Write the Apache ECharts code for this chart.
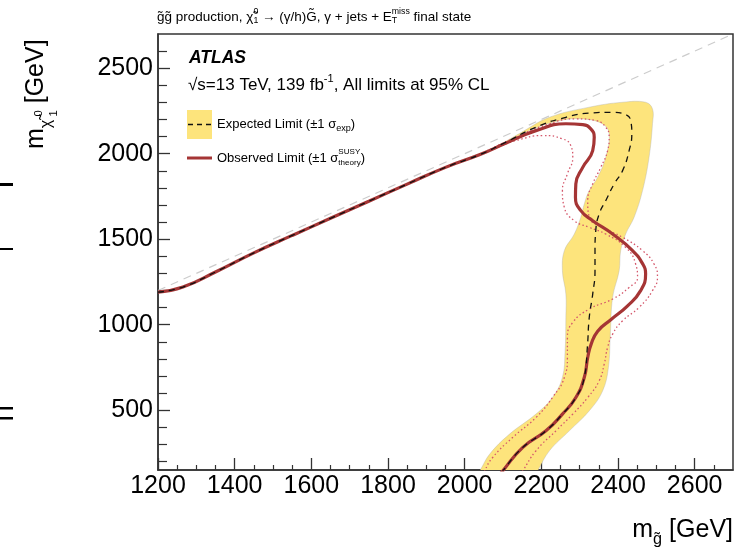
<!DOCTYPE html>
<html><head><meta charset="utf-8">
<script src="https://cdn.jsdelivr.net/npm/echarts@6/dist/echarts.min.js"></script>
<style>html,body{margin:0;padding:0;background:#fff}#c{width:745px;height:549px}</style>
</head><body><div id="c"></div>
<script>
// ---------------- data ----------------
const xTickLabels = [1200, 1400, 1600, 1800, 2000, 2200, 2400, 2600];
const xMinorTicks = [1250,1300,1350,1450,1500,1550,1650,1700,1750,1850,1900,1950,2050,2100,2150,2250,2300,2350,2450,2500,2550,2650];
const yTickLabels = [500, 1000, 1500, 2000, 2500];
const yMinorTicks = [200,300,400,600,700,800,900,1100,1200,1300,1400,1600,1700,1800,1900,2100,2200,2300,2400,2600];

const diagonal = [[1200,1200],[2700,2700]];

const observed = [[1200,1190],[1265,1220],[1350,1308],[1450,1420],[1550,1522],[1650,1622],[1750,1722],[1850,1822],[1950,1920],[2040,1995],[2108,2062],[2186,2135],[2264,2175],[2308,2170],[2329,2145],[2338,2096],[2334,2018],[2308,1920],[2290,1823],[2289,1745],[2303,1667],[2334,1608],[2386,1530],[2438,1433],[2464,1357],[2472,1296],[2459,1199],[2425,1110],[2382,1030],[2347,962],[2330,886],[2321,808],[2312,691],[2290,574],[2255,477],[2212,379],[2151,281],[2099,144],[2080,90]];

const expected = [[1200,1190],[1265,1220],[1350,1308],[1450,1420],[1550,1522],[1650,1622],[1750,1722],[1850,1822],[1950,1920],[2040,1995],[2108,2068],[2186,2155],[2264,2213],[2325,2237],[2386,2242],[2420,2229],[2433,2194],[2436,2116],[2429,2018],[2412,1901],[2390,1823],[2368,1725],[2351,1648],[2342,1550],[2340,1433],[2340,1316],[2334,1179],[2325,1042],[2320,866],[2312,691],[2290,574],[2255,477],[2212,379],[2151,281],[2099,144],[2080,90]];

const obsUp = [[2040,1995],[2108,2070],[2221,2175],[2290,2204],[2342,2194],[2368,2155],[2377,2096],[2373,2018],[2355,1920],[2334,1823],[2321,1725],[2325,1628],[2360,1569],[2412,1511],[2464,1433],[2494,1355],[2503,1280],[2490,1199],[2455,1101],[2412,1023],[2386,945],[2373,867],[2364,769],[2351,672],[2321,574],[2282,477],[2238,379],[2186,262],[2151,144],[2130,80]];

const obsDown = [[2040,1995],[2100,2050],[2134,2077],[2203,2106],[2255,2087],[2277,2047],[2282,1979],[2268,1882],[2255,1784],[2260,1686],[2286,1608],[2325,1569],[2368,1530],[2420,1452],[2446,1355],[2451,1276],[2429,1218],[2386,1150],[2325,1091],[2282,1013],[2268,925],[2268,808],[2260,691],[2229,574],[2186,457],[2125,340],[2073,223],[2052,144],[2040,80]];

const bandOuter = [[2060,2010],[2143,2118],[2221,2213],[2325,2272],[2412,2301],[2472,2301],[2490,2262],[2490,2175],[2481,1979],[2464,1784],[2442,1628],[2420,1530],[2407,1433],[2403,1316],[2386,1160],[2380,945],[2375,749],[2360,613],[2325,496],[2273,379],[2221,262],[2190,144],[2175,90]];
const bandInner = [[2020,90],[2039,144],[2065,242],[2117,360],[2186,477],[2229,574],[2255,691],[2262,847],[2264,1042],[2264,1179],[2255,1316],[2260,1433],[2286,1530],[2303,1628],[2312,1706],[2325,1784],[2347,1862],[2368,1979],[2377,2116],[2360,2174],[2308,2203],[2247,2193],[2169,2135],[2104,2059]];

// ---------------- helpers ----------------
const FONT = "'Liberation Sans', Arial, Helvetica, sans-serif";
const mctx = document.createElement('canvas').getContext('2d');
function fontStr(size, weight, style){ return `${style||'normal'} ${weight||'normal'} ${size}px ${FONT}`; }
function measure(t, size, weight, style){ mctx.font = fontStr(size, weight, style); return mctx.measureText(t).width; }
function richText(segs, base, opt){
  opt = opt || {};
  let x = 0, pend = 0; const els = [];
  for (const s of segs){
    const size = base * (s.k || 1);
    const w = measure(s.t, size, opt.weight, opt.style);
    els.push({type:'text', x:x, y:(s.dy||0)*base, silent:true,
      style:{text:s.t, font:fontStr(size, opt.weight, opt.style), fill:opt.color||'#000',
             textAlign:'left', textVerticalAlign:'middle', verticalAlign:'middle'}});
    if (s.stack){ pend = Math.max(pend, w); }
    else { x += Math.max(w, pend); pend = 0; }
  }
  return {els, width:x};
}
function textGroup(x, y, segs, base, opt){
  const r = richText(segs, base, opt);
  const o = opt || {};
  let gx = x;
  if (o.align === 'right') gx = x - r.width;
  return {type:'group', x:gx, y:y, rotation:o.rotation||0, children:r.els};
}

const OBS_COLOR = '#a53535';
const BAND_COLOR = '#fde47c';
const DOT_COLOR = '#d4566a';

// ---------------- texts ----------------
const title = textGroup(157, 17, [
  {t:'g\u0303g\u0303 production, '},
  {t:'\u03c7\u0303'},
  {t:'0', k:0.65, dy:-0.38, stack:true},
  {t:'1', k:0.65, dy:0.3},
  {t:' \u2192 (\u03b3/h)G\u0303, \u03b3 + jets + E'},
  {t:'miss', k:0.65, dy:-0.4, stack:true},
  {t:'T', k:0.65, dy:0.3},
  {t:' final state'}
], 13.5);

const yTitle = textGroup(36, 149, [
  {t:'m'},
  {t:'\u03c7\u0303', k:0.65, dy:0.42},
  {t:' 0', k:0.45, dy:0.12, stack:true},
  {t:' 1', k:0.45, dy:0.72},
  {t:' [GeV]'}
], 25, {rotation: Math.PI/2});

const xTitle = textGroup(733, 530, [
  {t:'m'},
  {t:'g\u0303', k:0.65, dy:0.38},
  {t:' [GeV]'}
], 25, {align:'right'});

const atlas = textGroup(189, 58, [{t:'ATLAS'}], 17.5, {weight:'bold', style:'italic'});
const energy = textGroup(188, 85, [
  {t:'\u221as=13 TeV, 139 fb'},
  {t:'-1', k:0.65, dy:-0.38},
  {t:', All limits at 95% CL'}
], 17);
const legExp = textGroup(217, 124, [
  {t:'Expected Limit (\u00b11 \u03c3'},
  {t:'exp', k:0.7, dy:0.32},
  {t:')'}
], 13);
const legObs = textGroup(217, 158, [
  {t:'Observed Limit (\u00b11 \u03c3'},
  {t:'SUSY', k:0.62, dy:-0.45, stack:true},
  {t:'theory', k:0.62, dy:0.38},
  {t:')'}
], 13);

// ---------------- chart ----------------
const chart = echarts.init(document.getElementById('c'), null, {renderer:'canvas'});
const axisLineStyle = {color:'#333', width:1.5};
const labelStyle = {color:'#000', fontSize:25, fontFamily:FONT, formatter:function(v){ return String(v); }};

chart.setOption({
  animation:false,
  backgroundColor:'#fff',
  grid:{left:158, right:12, top:34, bottom:79, show:true, borderColor:'#333', borderWidth:1.5, backgroundColor:'transparent', containLabel:false, outerBoundsMode:'none'},
  xAxis:[
    {type:'value', min:1200, max:2700, position:'bottom',
     axisLine:{show:true, onZero:false, lineStyle:axisLineStyle},
     axisTick:{show:true, inside:true, length:12, customValues:xTickLabels, lineStyle:{color:'#333', width:1.3}},
     axisLabel:Object.assign({show:true, margin:4, customValues:xTickLabels}, labelStyle),
     splitLine:{show:false}, minorTick:{show:false}},
    {type:'value', min:1200, max:2700, position:'bottom', offset:0,
     axisLine:{show:false, onZero:false},
     axisTick:{show:true, inside:true, length:5, customValues:xMinorTicks, lineStyle:{color:'#333', width:1.2}},
     axisLabel:{show:false}, splitLine:{show:false}}
  ],
  yAxis:[
    {type:'value', min:150, max:2700, position:'left',
     axisLine:{show:true, onZero:false, lineStyle:axisLineStyle},
     axisTick:{show:true, inside:true, length:12, customValues:yTickLabels, lineStyle:{color:'#333', width:1.3}},
     axisLabel:Object.assign({show:true, margin:5, customValues:yTickLabels}, labelStyle),
     splitLine:{show:false}},
    {type:'value', min:150, max:2700, position:'left', offset:0,
     axisLine:{show:false, onZero:false},
     axisTick:{show:true, inside:true, length:9, customValues:yMinorTicks, lineStyle:{color:'#333', width:1.2}},
     axisLabel:{show:false}, splitLine:{show:false}}
  ],
  series:[
    {type:'custom', name:'band', coordinateSystem:'cartesian2d', xAxisIndex:0, yAxisIndex:0,
     data:[[2300,1500]], encode:{x:0, y:1}, clip:true, silent:true, z:1,
     renderItem:function(params, api){
       const poly = bandOuter.concat(bandInner).map(p => api.coord(p));
       return {type:'polygon', shape:{points:poly, smooth:0.4},
               style:{fill:BAND_COLOR, stroke:'rgba(170,170,170,0.45)', lineWidth:0.8}};
     }},
    {type:'line', name:'diag', data:diagonal, xAxisIndex:0, yAxisIndex:0, symbol:'none', silent:true, z:2,
     lineStyle:{color:'#cccccc', width:1.2, type:[8,6]}},
    {type:'line', name:'obsUp', data:obsUp, xAxisIndex:0, yAxisIndex:0, symbol:'none', smooth:0.5, silent:true, z:3,
     lineStyle:{color:DOT_COLOR, width:1.3, type:[1.5,2.5]}},
    {type:'line', name:'obsDown', data:obsDown, xAxisIndex:0, yAxisIndex:0, symbol:'none', smooth:0.5, silent:true, z:3,
     lineStyle:{color:DOT_COLOR, width:1.3, type:[1.5,2.5]}},
    {type:'line', name:'observed', data:observed, xAxisIndex:0, yAxisIndex:0, symbol:'none', smooth:0.5, silent:true, z:4,
     lineStyle:{color:OBS_COLOR, width:3.2}},
    {type:'line', name:'expected', data:expected, xAxisIndex:0, yAxisIndex:0, symbol:'none', smooth:0.5, silent:true, z:5,
     lineStyle:{color:'#111', width:1.3, type:[6,5]}}
  ],
  graphic:[
    title, yTitle, xTitle, atlas, energy, legExp, legObs,
    {type:'rect', shape:{x:187, y:110, width:25, height:29}, style:{fill:BAND_COLOR}, silent:true},
    {type:'line', shape:{x1:188, y1:124.5, x2:212, y2:124.5}, style:{stroke:'#111', lineWidth:1.3, lineDash:[5,4]}, silent:true},
    {type:'line', shape:{x1:187, y1:158, x2:212, y2:158}, style:{stroke:OBS_COLOR, lineWidth:3}, silent:true},
    {type:'rect', shape:{x:0, y:183, width:13, height:3}, style:{fill:'#000'}, silent:true},
    {type:'rect', shape:{x:0, y:248, width:13, height:2}, style:{fill:'#000'}, silent:true},
    {type:'rect', shape:{x:0, y:407, width:13, height:2.5}, style:{fill:'#000'}, silent:true},
    {type:'rect', shape:{x:0, y:417, width:13, height:2.5}, style:{fill:'#000'}, silent:true}
  ]
});
</script>
</body></html>
